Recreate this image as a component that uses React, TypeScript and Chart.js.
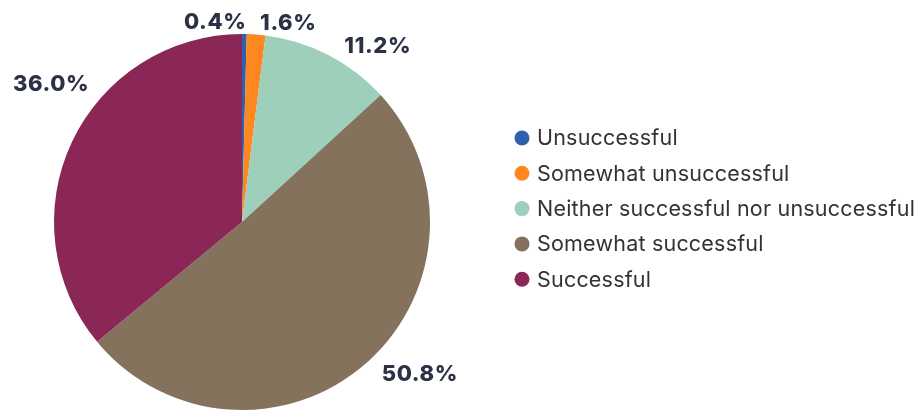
import { useEffect, useRef } from "react";
import { Chart, registerables } from "chart.js";

Chart.register(...registerables);

const categories = [
  "Unsuccessful",
  "Somewhat unsuccessful",
  "Neither successful nor unsuccessful",
  "Somewhat successful",
  "Successful",
];
const shares = [0.4, 1.6, 11.2, 50.8, 36.0];
const sliceColors = ["#3060ad", "#ff871f", "#9dcfbb", "#85725d", "#8a2756"];

type Box = { x: number; y: number; w: number; h: number };

const outLabels = {
  id: "outLabels",
  afterDatasetsDraw(chart: any) {
    const ctx = chart.ctx as CanvasRenderingContext2D;
    const meta = chart.getDatasetMeta(0);
    const W = chart.width;
    const H = chart.height;
    const margin = 13;
    const gap = 2;
    const clearance = 5;
    const hOff = 15;
    const h = 16; // digit height
    ctx.save();
    ctx.font = "800 22px Inter";
    (ctx as any).letterSpacing = "0.6px";
    const data = chart.data.datasets[0].data as number[];
    const boxes: (Box & { text: string; px: number; right: boolean; upper: boolean })[] = [];
    let CX = 0, CY = 0, R = 0;
    meta.data.forEach((arc: any, i: number) => {
      const { x: cx, y: cy, startAngle, endAngle, outerRadius } = arc.getProps(
        ["x", "y", "startAngle", "endAngle", "outerRadius"],
        true
      );
      CX = cx; CY = cy; R = outerRadius;
      const text = data[i].toFixed(1) + "%";
      const w = ctx.measureText(text).width;
      const r = outerRadius + gap;
      let a = (startAngle + endAngle) / 2;
      const right = Math.cos(a) >= 0;
      const upper = Math.sin(a) < 0;
      const off = (ang: number) => hOff * Math.min(1, Math.abs(Math.cos(ang)) / 0.3);
      let px = cx + r * Math.cos(a);
      let py = cy + r * Math.sin(a);
      if (!right && px - off(a) - w < margin) {
        const c = Math.max(-1, Math.min(1, (margin + w + hOff - cx) / r));
        a = upper ? -Math.acos(c) : Math.acos(c);
        px = cx + r * Math.cos(a);
        py = cy + r * Math.sin(a);
      }
      if (right && px + off(a) + w > W - margin) {
        const c = Math.max(-1, Math.min(1, (W - margin - w - hOff - cx) / r));
        a = upper ? -Math.acos(c) : Math.acos(c);
        px = cx + r * Math.cos(a);
        py = cy + r * Math.sin(a);
      }
      const o = off(a);
      const bx = right ? px + o : px - o - w;
      const by = upper ? py - h : py;
      boxes.push({ x: bx, y: by, w, h, text, px, right, upper });
    });
    for (let i = 0; i < boxes.length - 1; i++) {
      const A = boxes[i];
      const B = boxes[i + 1];
      const overlap =
        A.x < B.x + B.w && A.x + A.w > B.x && A.y < B.y + B.h && A.y + A.h > B.y;
      if (overlap && A.right) {
        A.x = A.px - A.w + 2;
        A.right = false;
      }
    }
    // keep a minimum clearance between each label box and the pie
    boxes.forEach((b) => {
      for (let k = 0; k < 40; k++) {
        const nx = Math.max(b.x, Math.min(CX, b.x + b.w));
        const ny = b.upper ? b.y + b.h : b.y;
        const d = Math.hypot(nx - CX, ny - CY);
        if (d >= R + clearance) break;
        b.y += b.upper ? -0.5 : 0.5;
      }
      if (b.y < 2) b.y = 2;
      if (b.y + b.h > H - 2) b.y = H - 2 - b.h;
    });
    ctx.fillStyle = "#2b3245";
    ctx.textAlign = "left";
    ctx.textBaseline = "alphabetic";
    boxes.forEach((b) => {
      ctx.fillText(b.text, b.x, b.y + b.h);
    });
    ctx.restore();
  },
};

const sideLegend = {
  id: "sideLegend",
  afterDraw(chart: any, _args: any, opts: any) {
    const ctx = chart.ctx as CanvasRenderingContext2D;
    const labels = chart.data.labels as string[];
    const colors = chart.data.datasets[0].backgroundColor as string[];
    ctx.save();
    ctx.font = `${opts.fontSize}px Inter`;
    (ctx as any).letterSpacing = opts.spacing;
    ctx.textBaseline = "middle";
    ctx.textAlign = "left";
    labels.forEach((lab, i) => {
      const y = opts.top + i * opts.step;
      ctx.beginPath();
      ctx.arc(opts.left, y, opts.dot, 0, Math.PI * 2);
      ctx.fillStyle = colors[i];
      ctx.fill();
      ctx.fillStyle = "#333333";
      ctx.fillText(lab, opts.left + opts.textGap, y + 1);
    });
    ctx.restore();
  },
};

export default function App() {
  const ref = useRef<HTMLCanvasElement | null>(null);
  useEffect(() => {
    if (!ref.current) return;
    const chart = new Chart(ref.current, {
      type: "pie",
      data: {
        labels: categories,
        datasets: [
          {
            data: shares,
            backgroundColor: sliceColors,
            borderWidth: 0,
          },
        ],
      },
      options: {
        animation: false,
        responsive: true,
        maintainAspectRatio: false,
        layout: { padding: { left: 54, right: 486, top: 34, bottom: 1 } },
        plugins: {
          legend: { display: false },
          tooltip: { enabled: false },
          sideLegend: {
            left: 522,
            top: 138,
            step: 35.3,
            dot: 7.5,
            textGap: 15,
            fontSize: 21.5,
            spacing: "0.2px",
          },
        } as any,
      },
      plugins: [outLabels, sideLegend],
    });
    return () => chart.destroy();
  }, []);
  return (
    <div style={{ position: "fixed", left: 0, top: 0, width: 916, height: 411, background: "#fff" }}>
      <canvas ref={ref} />
    </div>
  );
}
